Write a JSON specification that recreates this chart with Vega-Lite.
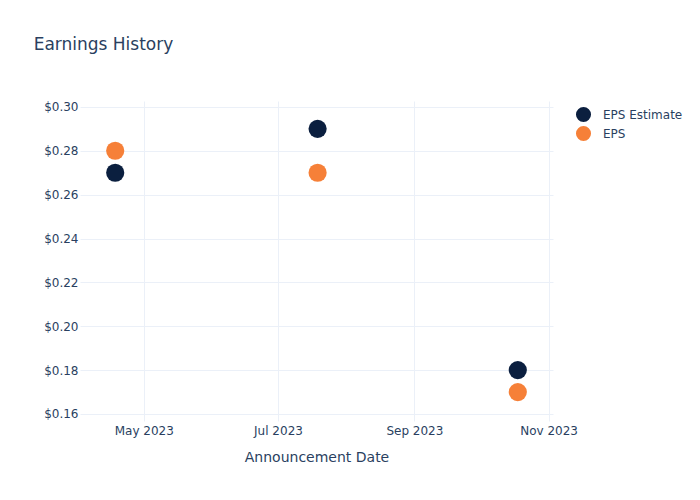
{
  "$schema": "https://vega.github.io/schema/vega-lite/v6.json",
  "width": 473,
  "height": 320,
  "autosize": {"type": "none"},
  "padding": {"left": 80, "top": 101, "right": 147, "bottom": 79},
  "background": "white",
  "config": {
    "font": "DejaVu Sans",
    "view": {"stroke": null},
    "axis": {"labelColor": "#2a3f5f", "titleColor": "#2a3f5f", "labelFont": "DejaVu Sans", "titleFont": "DejaVu Sans"}
  },
  "title": {
    "text": "Earnings History",
    "anchor": "start",
    "dx": -10,
    "offset": 47,
    "fontSize": 17,
    "fontWeight": "normal",
    "color": "#2a3f5f",
    "font": "DejaVu Sans"
  },
  "data": {
    "values": [
      {"date": "2023-04-18", "series": "EPS Estimate", "value": 0.27},
      {"date": "2023-07-19", "series": "EPS Estimate", "value": 0.29},
      {"date": "2023-10-18", "series": "EPS Estimate", "value": 0.18},
      {"date": "2023-04-18", "series": "EPS", "value": 0.28},
      {"date": "2023-07-19", "series": "EPS", "value": 0.27},
      {"date": "2023-10-18", "series": "EPS", "value": 0.17}
    ]
  },
  "mark": {"type": "circle", "size": 330, "opacity": 1},
  "encoding": {
    "x": {
      "field": "date",
      "type": "temporal",
      "title": "Announcement Date",
      "scale": {
        "type": "utc",
        "domain": [{"year": 2023, "month": 4, "date": 2, "utc": true}, {"year": 2023, "month": 11, "date": 3, "utc": true}]
      },
      "axis": {
        "values": [
          {"year": 2023, "month": 5, "date": 1, "utc": true},
          {"year": 2023, "month": 7, "date": 1, "utc": true},
          {"year": 2023, "month": 9, "date": 1, "utc": true},
          {"year": 2023, "month": 11, "date": 1, "utc": true}
        ],
        "labelExpr": "utcFormat(datum.value, '%b %Y')",
        "labelFontSize": 12,
        "labelPadding": 4,
        "titleFontSize": 14,
        "titleFontWeight": "normal",
        "titlePadding": 14,
        "domain": false,
        "ticks": false,
        "gridColor": "#ebf0f8",
        "gridWidth": 1,
        "labelFlush": false
      }
    },
    "y": {
      "field": "value",
      "type": "quantitative",
      "title": null,
      "scale": {"domain": [0.1568, 0.3027], "zero": false, "nice": false},
      "axis": {
        "values": [0.16, 0.18, 0.2, 0.22, 0.24, 0.26, 0.28, 0.3],
        "format": "$.2f",
        "labelFontSize": 12,
        "labelPadding": 2,
        "domain": false,
        "ticks": false,
        "gridColor": "#ebf0f8",
        "gridWidth": 1
      }
    },
    "color": {
      "field": "series",
      "type": "nominal",
      "sort": ["EPS Estimate", "EPS"],
      "scale": {"domain": ["EPS Estimate", "EPS"], "range": ["#0b1f3f", "#f68038"]},
      "legend": {
        "title": null,
        "orient": "none",
        "legendX": 495,
        "legendY": 5,
        "symbolType": "circle",
        "symbolSize": 227,
        "symbolOpacity": 1,
        "labelFontSize": 12,
        "labelColor": "#2a3f5f",
        "labelOffset": 11,
        "rowPadding": 2
      }
    },
    "order": {"field": "series", "sort": "descending"}
  }
}
